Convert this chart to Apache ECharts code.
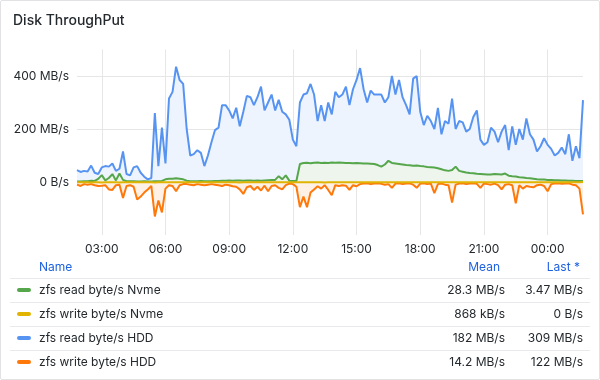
<!DOCTYPE html>
<html><head><meta charset="utf-8">
<script src="https://cdn.jsdelivr.net/npm/echarts@6/dist/echarts.min.js"></script>
<style>
html,body{margin:0;padding:0;background:#fff;}
body{width:600px;height:380px;overflow:hidden;position:relative;font-family:Inter,"Noto Sans",sans-serif;}
#panel{position:absolute;left:0;top:0;width:598px;height:378px;border:1px solid #e2e2e4;border-radius:2px;}
#chart{position:absolute;left:0;top:0;width:600px;height:380px;}
.t{position:absolute;font-size:12px;line-height:16px;height:16px;white-space:nowrap;color:#24292e;}
.h{color:#1f62e0;}
.r{text-align:right;}
.sep{position:absolute;left:10px;width:580px;height:1px;background:#e9e9eb;}
.sw{position:absolute;left:17px;width:14px;height:4px;border-radius:2px;}
</style>
</head><body>
<div id="panel"></div>
<div id="chart"></div>
<div id="legend"></div>
<script>
// ---- data ----
const startTime = '01:50';          // first sample
const stepMinutes = 10;             // sample spacing
const xTickLabels = ['03:00','06:00','09:00','12:00','15:00','18:00','21:00','00:00'];
const yTickValues = [0, 200, 400];

const seriesNames = ['zfs read byte/s Nvme','zfs write byte/s Nvme','zfs read byte/s HDD','zfs write byte/s HDD'];
const seriesColors = ['#56A64B','#E0B400','#5794F2','#FF780A'];
const meanLabels = ['28.3 MB/s','868 kB/s','182 MB/s','14.2 MB/s'];
const lastLabels = ['3.47 MB/s','0 B/s','309 MB/s','122 MB/s'];

// MB/s
const readNvme = [2,2,3,3,5,4,12,26,6,15, 30,6,32,8,3,3,3,2,2,3, 2,2,3,3,4,10,12,12,14,12,
 10,5,3,3,3,4,3,3,3,4, 4,5,5,6,5,6,6,5,6,6, 5,6,5,6,7,8,8,22,10,25,
 5,4,4,68,72,73,71,73,74,72, 73,72,74,73,74,73,72,72,71,72, 71,70,70,69,68,64,58,66,80,72,
 70,68,66,64,63,61,62,60,59,57, 56,55,52,48,44,42,45,58,42,39, 36,34,33,31,30,29,28,28,30,29,
 28,32,24,22,21,18,17,15,14,12, 10,9,9,8,8,7,7,6,6,5, 5,4,4,3.47];
const writeNvme = [1,1,0.5,1,1.5,1,1,2,1,1, 1,1,1.5,1,1,1,0.5,1,1,1, 1,1,2,1,1,1,1,1,1,1,
 0.5,1,1,1,1,1,1,1,1,1, 1,1,1,1,1,1,1.5,1,1,1, 1,1,1,1,1,1,1,1,1,1,
 1,1,1,1,1,1,1,1,1,1, 2,1,1,1,1,1,1,1,1,1, 1,1,1,1,1,1,1,1,1,1,
 1,1,1,1,1,1,1,1,1,1, 0.5,1,1,1,0.5,0.5,1,0.5,0.5,1, 0.5,0.5,0.5,0.5,0.5,0.5,0.5,0.5,0.5,0.5,
 0.5,0.5,0.5,0.5,0.5,0.5,0.5,0.5,0.5,0.5, 0.5,0.5,0.5,0.5,0.5,0.5,0.5,0.5,0.5,0.5, 0.5,0.5,0.5,0];
const readHdd = [45,38,42,40,62,35,30,55,60,58, 70,42,50,115,30,25,55,60,35,20,
 10,15,260,60,205,70,315,340,435,385, 370,200,100,105,120,110,60,100,150,196,
 205,290,290,270,240,280,210,265,325,320, 290,320,360,270,300,330,270,310,265,255,
 235,160,135,300,330,335,370,330,230,290, 230,300,255,340,320,330,360,290,350,385,
 430,350,300,345,330,330,330,300,320,400, 330,385,320,290,255,390,400,265,215,250,
 230,200,280,180,230,220,315,200,230,225, 190,200,245,270,160,140,150,205,190,150,
 190,215,120,210,140,200,160,240,180,160, 115,135,165,140,125,100,110,130,105,180,
 80,135,90,309];
const writeHdd = [10,15,8,10,8,12,15,14,12,28, 30,12,10,60,15,12,18,66,55,40,
 28,15,130,70,115,25,12,15,35,12, 8,8,10,12,8,10,12,10,8,10,
 12,15,10,12,16,18,28,45,20,15, 30,18,32,14,35,15,12,22,28,12,
 6,8,18,95,55,95,40,28,16,25, 12,30,50,12,15,12,14,30,12,16,
 8,6,5,8,6,5,7,10,8,22, 6,5,8,6,5,10,22,6,5,8,
 6,42,8,6,10,12,78,10,6,5, 8,6,5,7,22,6,8,10,6,12,
 28,10,8,12,80,12,25,15,18,20, 12,10,15,35,8,6,5,7,6,5,
 10,12,25,122];

// ---- build categories (time of each sample) ----
function pad(n){return (n<10?'0':'')+n;}
const times = [];
(function(){
  const p = startTime.split(':');
  const s = (+p[0])*60 + (+p[1]);
  for (let i=0;i<readHdd.length;i++){
    const m = (s + i*stepMinutes) % 1440;
    times.push(pad(Math.floor(m/60))+':'+pad(m%60));
  }
})();
const isMajor = (idx, val) => xTickLabels.indexOf(val) >= 0;

const font = 'Inter, "Noto Sans", sans-serif';
const textColor = '#24292e';
const gridColor = '#e6e6e6';
// light fills (10% tint of each colour on white)
const fillColors = ['#EDF5EC','#FCF7E5','#EEF4FE','#FFF1E6'];

function mk(i, data, z){
  return {
    name: seriesNames[i], type:'line', data: data, showSymbol:false, symbol:'none',
    lineStyle:{width:2, color:seriesColors[i]}, itemStyle:{color:seriesColors[i]},
    areaStyle:{color:fillColors[i], opacity:1},
    emphasis:{disabled:true}, animation:false, z: z
  };
}

const chart = echarts.init(document.getElementById('chart'), null, {renderer:'canvas'});
chart.setOption({
  animation:false,
  title:{text:'Disk ThroughPut', left:8, top:9, textStyle:{fontFamily:font, fontSize:14, fontWeight:500, color:textColor}},
  grid:{left:77, width:506, top:49.5, height:185.5, containLabel:false},
  xAxis:{
    type:'category', data:times, boundaryGap:false,
    axisLine:{show:false}, axisTick:{show:false},
    axisLabel:{interval:isMajor, color:textColor, fontSize:12, fontFamily:font, margin:8},
    splitLine:{show:true, interval:isMajor, lineStyle:{color:gridColor, width:1}}
  },
  yAxis:{
    type:'value', min:-200, max:500, interval:200,
    axisLine:{show:false}, axisTick:{show:false},
    axisLabel:{color:textColor, fontSize:12, fontFamily:font, margin:8, showMinLabel:false, showMaxLabel:false,
      formatter:(v)=> yTickValues.indexOf(v)<0 ? '' : (v===0 ? '0 B/s' : v+' MB/s')},
    splitLine:{show:true, showMinLine:false, showMaxLine:false, lineStyle:{color:gridColor, width:1}}
  },
  series:[
    mk(2, readHdd, 2),
    mk(0, readNvme, 3),
    mk(3, writeHdd.map(v=>-v), 4),
    mk(1, writeNvme.map(v=>-v), 5)
  ]
});

// ---- legend table ----
const lg = document.getElementById('legend');
let html = '';
html += '<div class="t h" style="left:39px;top:259px;">Name</div>';
html += '<div class="t h r" style="left:400px;width:100px;top:259px;">Mean</div>';
html += '<div class="t h r" style="left:480px;width:100px;top:259px;">Last *</div>';
for (let i=0;i<seriesNames.length;i++){
  const c = 290 + i*24;
  html += '<div class="sep" style="top:'+(c-12)+'px;"></div>';
  html += '<div class="sw" style="top:'+(c-2)+'px;background:'+seriesColors[i]+';"></div>';
  html += '<div class="t" style="left:39px;top:'+(c-8)+'px;">'+seriesNames[i]+'</div>';
  html += '<div class="t r" style="left:405px;width:100px;top:'+(c-8)+'px;">'+meanLabels[i]+'</div>';
  html += '<div class="t r" style="left:483px;width:100px;top:'+(c-8)+'px;">'+lastLabels[i]+'</div>';
}
lg.innerHTML = html;
</script>
</body></html>
